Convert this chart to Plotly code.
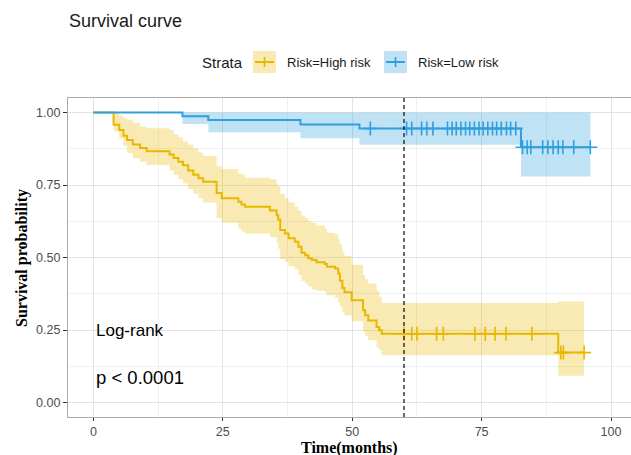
import plotly.graph_objects as go

# ---------------- data ----------------
high_time = [0, 3.9, 5.0, 5.8, 6.5, 7.6, 9.0, 10.3, 14.7, 15.5, 16.4, 17.3, 18.3, 19.3, 20.3, 21.2,
             23.8, 24.8, 28.0, 28.6, 29.3, 34.1, 35.4, 35.7, 36.1, 37.0, 37.7, 38.9, 39.6, 40.2,
             40.9, 41.5, 42.2, 43.1, 44.7, 45.1, 46.7, 47.3, 47.6, 48.1, 48.5, 49.9, 52.1, 52.5,
             53.1, 54.7, 55.2, 55.7, 89.8]
high_surv = [1.0, 0.958, 0.94, 0.92, 0.905, 0.89, 0.878, 0.866, 0.855, 0.843, 0.83, 0.818, 0.80,
             0.785, 0.773, 0.761, 0.722, 0.704, 0.692, 0.683, 0.675, 0.662, 0.646, 0.63, 0.595,
             0.583, 0.566, 0.554, 0.537, 0.516, 0.508, 0.497, 0.491, 0.484, 0.478, 0.468, 0.462,
             0.445, 0.42, 0.395, 0.38, 0.353, 0.318, 0.301, 0.283, 0.26, 0.249, 0.237, 0.172]
high_upper = [1.0, 1.0, 0.99, 0.98, 0.975, 0.965, 0.952, 0.946, 0.94, 0.925, 0.915, 0.90, 0.89,
              0.877, 0.862, 0.85, 0.815, 0.805, 0.79, 0.785, 0.775, 0.77, 0.755, 0.745, 0.72,
              0.705, 0.69, 0.675, 0.66, 0.645, 0.635, 0.625, 0.62, 0.61, 0.60, 0.585, 0.58,
              0.565, 0.545, 0.52, 0.505, 0.475, 0.44, 0.425, 0.41, 0.385, 0.365, 0.343, 0.348]
high_lower = [1.0, 0.935, 0.91, 0.885, 0.86, 0.842, 0.83, 0.819, 0.80, 0.785, 0.77, 0.755, 0.735,
              0.72, 0.705, 0.69, 0.635, 0.62, 0.60, 0.59, 0.583, 0.57, 0.55, 0.53, 0.495, 0.485,
              0.47, 0.46, 0.44, 0.42, 0.41, 0.40, 0.39, 0.385, 0.38, 0.37, 0.36, 0.345, 0.33,
              0.31, 0.30, 0.28, 0.245, 0.23, 0.215, 0.19, 0.18, 0.163, 0.092]
high_end = 94.8
high_censor = [60.0, 61.5, 62.5, 66.3, 67.6, 73.7, 75.7, 77.6, 79.7, 84.7, 90.3, 90.8, 94.8]

low_time = [0, 17.2, 22.2, 40.0, 51.4, 82.6]
low_surv = [1.0, 0.987, 0.974, 0.959, 0.945, 0.880]
low_upper = [1.0, 1.0, 1.0, 1.0, 1.0, 1.0]
low_lower = [1.0, 0.96, 0.932, 0.911, 0.889, 0.779]
low_end = 96.0
low_censor = [53.5, 60.5, 61.5, 63.4, 64.4, 65.6, 68.4, 69.3, 70.1, 71.0, 71.9, 72.7, 73.6, 74.5,
              75.3, 76.2, 77.1, 77.9, 78.8, 79.8, 80.6, 81.6, 82.9, 83.8, 84.5, 86.8, 87.8, 88.8,
              89.8, 90.7, 92.8, 96.0]

x_ticks = [0, 25, 50, 75, 100]
y_ticks = [0.0, 0.25, 0.5, 0.75, 1.0]
cutoff_time = 60

HIGH = "#E7B800"
LOW = "#2E9FDF"
HIGH_FILL = "rgba(231,184,0,0.30)"
LOW_FILL = "rgba(46,159,223,0.30)"


def step_at(times, vals, t):
    idx = 0
    for i, tt in enumerate(times):
        if tt <= t:
            idx = i
    return vals[idx]


fig = go.Figure()


def add_group(times, surv, upper, lower, end, censor, color, fill, name):
    xs = list(times) + [end]
    fig.add_trace(go.Scatter(x=xs, y=list(lower) + [lower[-1]], mode="lines",
                             line=dict(width=0, shape="hv", color=fill),
                             showlegend=False, hoverinfo="skip"))
    fig.add_trace(go.Scatter(x=xs, y=list(upper) + [upper[-1]], mode="lines",
                             line=dict(width=0, shape="hv", color=fill),
                             fill="tonexty", fillcolor=fill,
                             showlegend=False, hoverinfo="skip"))
    fig.add_trace(go.Scatter(x=xs, y=list(surv) + [surv[-1]], mode="lines",
                             line=dict(width=2, shape="hv", color=color),
                             name=name, showlegend=False))
    cy = [step_at(times, surv, c) for c in censor]
    fig.add_trace(go.Scatter(x=censor, y=cy, mode="markers",
                             marker=dict(symbol="cross-thin", size=10,
                                         line=dict(width=1.6, color=color)),
                             showlegend=False, hoverinfo="skip"))


add_group(high_time, high_surv, high_upper, high_lower, high_end, high_censor,
          HIGH, HIGH_FILL, "Risk=High risk")
add_group(low_time, low_surv, low_upper, low_lower, low_end, low_censor,
          LOW, LOW_FILL, "Risk=Low risk")

# geometry helpers (pixel -> paper)
L, R, T, B = 68, 0, 98, 38
W, H = 631, 455
PW, PH = W - L - R, H - T - B


def px(x):
    return (x - L) / PW


def py(y):
    return (H - B - y) / PH


shapes = []
annotations = []

# dashed cut-off line
shapes.append(dict(type="line", xref="x", yref="paper", x0=cutoff_time, x1=cutoff_time,
                   y0=0, y1=1, line=dict(color="#1A1A1A", width=1.3, dash="4px,3px")))

# manual legend
legend_items = [("Risk=High risk", HIGH, HIGH_FILL, 253), ("Risk=Low risk", LOW, LOW_FILL, 384)]
ly = 62
for label, col, fcol, x0 in legend_items:
    shapes.append(dict(type="rect", xref="paper", yref="paper", x0=px(x0), x1=px(x0 + 23),
                       y0=py(ly + 11), y1=py(ly - 11), fillcolor=fcol, line=dict(width=0)))
    shapes.append(dict(type="line", xref="paper", yref="paper", x0=px(x0 + 2), x1=px(x0 + 21),
                       y0=py(ly), y1=py(ly), line=dict(color=col, width=2)))
    shapes.append(dict(type="line", xref="paper", yref="paper", x0=px(x0 + 11.5), x1=px(x0 + 11.5),
                       y0=py(ly + 5), y1=py(ly - 5), line=dict(color=col, width=1.6)))
    annotations.append(dict(text=label, xref="paper", yref="paper", x=px(x0 + 32), y=py(ly),
                            xanchor="left", yanchor="middle", showarrow=False,
                            font=dict(size=13, color="#1A1A1A", family="Liberation Sans, Arial")))
annotations.append(dict(text="Strata", xref="paper", yref="paper", x=px(200), y=py(ly),
                        xanchor="left", yanchor="middle", showarrow=False,
                        font=dict(size=15, color="#1A1A1A", family="Liberation Sans, Arial")))

# title
annotations.append(dict(text="Survival curve", xref="paper", yref="paper", x=px(67), y=py(21),
                        xanchor="left", yanchor="middle", showarrow=False,
                        font=dict(size=18, color="#1A1A1A", family="Liberation Sans, Arial")))

# log-rank text
annotations.append(dict(text="Log-rank", xref="paper", yref="paper", x=px(94), y=py(330),
                        xanchor="left", yanchor="middle", showarrow=False,
                        font=dict(size=17, color="#000000", family="Liberation Sans, Arial")))
annotations.append(dict(text="p &lt; 0.0001", xref="paper", yref="paper", x=px(94), y=py(377),
                        xanchor="left", yanchor="middle", showarrow=False,
                        font=dict(size=18.5, color="#000000", family="Liberation Sans, Arial")))

# axis titles
annotations.append(dict(text="<b>Time(months)</b>", xref="paper", yref="paper", x=px(349), y=py(448),
                        xanchor="center", yanchor="middle", showarrow=False,
                        font=dict(size=16, color="#000000", family="Liberation Serif, Times New Roman")))
annotations.append(dict(text="<b>Survival probability</b>", xref="paper", yref="paper", x=px(22), y=py(258),
                        xanchor="center", yanchor="middle", showarrow=False, textangle=-90,
                        font=dict(size=16, color="#000000", family="Liberation Serif, Times New Roman")))

fig.update_layout(
    width=W, height=H, autosize=False,
    margin=dict(l=L, r=R, t=T, b=B, pad=0),
    plot_bgcolor="white", paper_bgcolor="white",
    showlegend=False,
    shapes=shapes, annotations=annotations,
    font=dict(family="Liberation Sans, Arial", size=12, color="#4D4D4D"),
)
fig.update_xaxes(
    range=[-4.91, 103.86], tickvals=x_ticks, ticktext=[str(v) for v in x_ticks],
    showgrid=True, gridcolor="#E3E3E3", gridwidth=1.2,
    minor=dict(dtick=12.5, tick0=0, showgrid=True, gridcolor="#F0F0F0", gridwidth=0.8),
    showline=True, linecolor="#ABABAB", linewidth=1.3, mirror=True,
    ticks="outside", ticklen=3, tickwidth=1.2, tickcolor="#333333",
    tickfont=dict(size=12.5, color="#4D4D4D"), zeroline=False,
)
fig.update_yaxes(
    range=[-0.05, 1.05], tickvals=y_ticks, ticktext=["%.2f" % v for v in y_ticks],
    showgrid=True, gridcolor="#E3E3E3", gridwidth=1.2,
    minor=dict(dtick=0.125, tick0=0, showgrid=True, gridcolor="#F0F0F0", gridwidth=0.8),
    showline=True, linecolor="#ABABAB", linewidth=1.3, mirror=False,
    ticks="outside", ticklen=4, tickwidth=1.2, tickcolor="#333333",
    tickfont=dict(size=12.5, color="#4D4D4D"), zeroline=False,
)

fig.write_html("out.html")
